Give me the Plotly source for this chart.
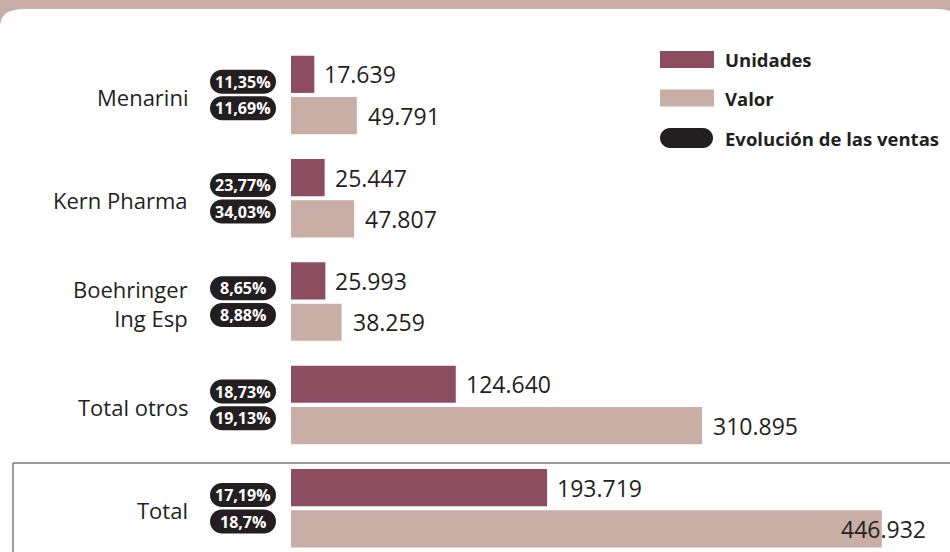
import plotly.graph_objects as go

# ---------------- data ----------------
categories = ["Menarini", "Kern Pharma", "Boehringer<br>Ing Esp", "Total otros", "Total"]
unidades = [17639, 25447, 25993, 124640, 193719]
valor = [49791, 47807, 38259, 310895, 446932]
evol_unidades = ["11,35%", "23,77%", "8,65%", "18,73%", "17,19%"]
evol_valor = ["11,69%", "34,03%", "8,88%", "19,13%", "18,7%"]
legend_labels = ["Unidades", "Valor", "Evolución de las ventas"]

# ---------------- style ----------------
W, H = 950, 552
C_UNI = "#8b4d5f"
C_VAL = "#c9aea5"
C_PILL = "#231f20"
C_TEXT = "#231f20"
FONT = "Open Sans"

X0_PX = 291.0          # pixel position of value 0
PX_PER_UNIT = 1.322 / 1000.0
Y0_PX = 95.0           # pixel centre of first category
SLOT_PX = 103.3        # pixels per category

x_range = [-X0_PX / PX_PER_UNIT, (W - X0_PX) / PX_PER_UNIT]
y_range = [(H - Y0_PX) / SLOT_PX, -Y0_PX / SLOT_PX]  # reversed

def px_to_x(px):
    return (px - X0_PX) / PX_PER_UNIT

def py_to_y(py):
    return (py - Y0_PX) / SLOT_PX

idx = list(range(len(categories)))

def fmt(v):
    return f"{v:,}".replace(",", ".")

fig = go.Figure()
fig.add_trace(go.Bar(
    y=idx, x=unidades, orientation="h", name=legend_labels[0],
    marker=dict(color=C_UNI, line=dict(width=0)),
    width=0.36, offset=-0.38, hoverinfo="skip"))
fig.add_trace(go.Bar(
    y=idx, x=valor, orientation="h", name=legend_labels[1],
    marker=dict(color=C_VAL, line=dict(width=0)),
    width=0.36, offset=0.02, hoverinfo="skip"))

shapes = []
annotations = []

# background white panel with rounded top corners
shapes.append(dict(
    type="path", xref="paper", yref="paper", layer="below",
    path="M 0,{a} Q 0,{b} {c},{b} L {d},{b} Q {e},{b} {e},{f} L {e},0 L 0,0 Z".format(
        a=1 - 27 / H, b=1 - 9 / H, c=24 / W, d=938 / W, e=962 / W, f=1 - 33 / H),
    fillcolor="white", line=dict(width=0)))

# box around "Total"
box_y = py_to_y(463)
shapes.append(dict(type="line", xref="x", yref="y",
                   x0=px_to_x(13), x1=px_to_x(W + 5), y0=box_y, y1=box_y,
                   line=dict(color="#7a7a7a", width=1.5)))
shapes.append(dict(type="line", xref="x", yref="y",
                   x0=px_to_x(13), x1=px_to_x(13), y0=box_y, y1=y_range[0] + 0.1,
                   line=dict(color="#7a7a7a", width=1.5)))

def pill_path(w, h):
    r = h
    k = 0.5523 * r
    return (f"M {-w + r},{-h} L {w - r},{-h} "
            f"C {w - r + k},{-h} {w},{-k} {w},0 "
            f"C {w},{k} {w - r + k},{h} {w - r},{h} "
            f"L {-w + r},{h} "
            f"C {-w + r - k},{h} {-w},{k} {-w},0 "
            f"C {-w},{-k} {-w + r - k},{-h} {-w + r},{-h} Z")

pill_x = px_to_x(243)
pill_dy = 13.3 / SLOT_PX

for i, cat in enumerate(categories):
    # category label
    annotations.append(dict(
        x=px_to_x(190), y=i + 2 / SLOT_PX, xref="x", yref="y", text=cat,
        showarrow=False, xanchor="right", yanchor="middle", align="right",
        font=dict(family=FONT, size=22, color=C_TEXT)))
    # pills
    for dy, txt in ((-pill_dy, evol_unidades[i]), (pill_dy, evol_valor[i])):
        shapes.append(dict(
            type="path", xref="x", yref="y", xsizemode="pixel", ysizemode="pixel",
            xanchor=pill_x, yanchor=i + dy, path=pill_path(33, 12),
            fillcolor=C_PILL, line=dict(width=0)))
        annotations.append(dict(
            x=pill_x, y=i + dy, xref="x", yref="y", text=f"<b>{txt}</b>",
            showarrow=False, xanchor="center", yanchor="middle",
            font=dict(family=FONT, size=16, color="white")))
    # value labels
    annotations.append(dict(
        x=unidades[i], y=i - 0.2, xref="x", yref="y", text=fmt(unidades[i]),
        showarrow=False, xanchor="left", yanchor="middle", xshift=8,
        font=dict(family=FONT, size=23, color=C_TEXT)))
    end_px = X0_PX + valor[i] * PX_PER_UNIT
    if end_px + 100 > W:
        annotations.append(dict(
            x=valor[i], y=i + 0.2, xref="x", yref="y", text=fmt(valor[i]),
            showarrow=False, xanchor="right", yanchor="middle", xshift=46,
            font=dict(family=FONT, size=23, color=C_TEXT)))
    else:
        annotations.append(dict(
            x=valor[i], y=i + 0.2, xref="x", yref="y", text=fmt(valor[i]),
            showarrow=False, xanchor="left", yanchor="middle", xshift=9,
            font=dict(family=FONT, size=23, color=C_TEXT)))

# custom legend
leg_x0, leg_x1 = px_to_x(660), px_to_x(714)
leg_rows = [59.5, 98, 138]
for j, (lab, col) in enumerate(zip(legend_labels, [C_UNI, C_VAL, C_PILL])):
    yc = py_to_y(leg_rows[j])
    if j < 2:
        shapes.append(dict(type="rect", xref="x", yref="y",
                           x0=leg_x0, x1=leg_x1,
                           y0=yc - 8.5 / SLOT_PX, y1=yc + 8.5 / SLOT_PX,
                           fillcolor=col, line=dict(width=0)))
    else:
        shapes.append(dict(type="path", xref="x", yref="y",
                           xsizemode="pixel", ysizemode="pixel",
                           xanchor=px_to_x(686.5), yanchor=yc,
                           path=pill_path(26.5, 10),
                           fillcolor=col, line=dict(width=0)))
    annotations.append(dict(
        x=px_to_x(723), y=yc, xref="x", yref="y", text=f"<b>{lab}</b>",
        showarrow=False, xanchor="left", yanchor="middle",
        font=dict(family=FONT, size=18.5, color=C_TEXT)))

fig.update_layout(
    width=W, height=H,
    margin=dict(l=0, r=0, t=0, b=0),
    paper_bgcolor=C_VAL, plot_bgcolor="rgba(0,0,0,0)",
    showlegend=False,
    barmode="overlay",
    xaxis=dict(range=x_range, visible=False, fixedrange=True),
    yaxis=dict(range=y_range, visible=False, fixedrange=True),
    shapes=shapes, annotations=annotations,
)

fig.write_html("out.html", config={"displayModeBar": False},
               post_script="document.body.style.margin='0';document.body.style.overflow='hidden';")
